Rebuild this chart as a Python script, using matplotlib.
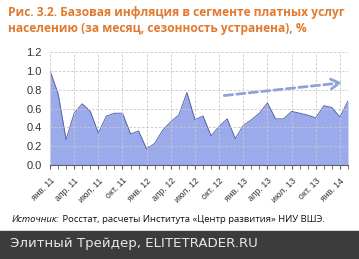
import numpy as np
import matplotlib
matplotlib.use('Agg')
import matplotlib.pyplot as plt
from matplotlib.ticker import MultipleLocator, FormatStrFormatter

# monthly values, Jan 2011 .. Feb 2014
values = [1.00, 0.76, 0.27, 0.55, 0.65, 0.57, 0.34, 0.52, 0.55, 0.55,
          0.33, 0.36, 0.17, 0.23, 0.37, 0.46, 0.53, 0.77, 0.48, 0.52,
          0.31, 0.41, 0.49, 0.28, 0.42, 0.48, 0.55, 0.66, 0.49, 0.49,
          0.57, 0.55, 0.53, 0.50, 0.63, 0.61, 0.51, 0.68]
tick_labels = ['янв. 11', 'апр. 11', 'июл. 11', 'окт. 11',
               'янв. 12', 'апр. 12', 'июл. 12', 'окт. 12',
               'янв. 13', 'апр. 13', 'июл. 13', 'окт. 13', 'янв. 14']
# trend arrow (month index, value)
trend_x = [21.3, 36.6]
trend_y = [0.735, 0.877]

title = ('Рис. 3.2. Базовая инфляция в сегменте платных услуг\n'
         'населению (за месяц, сезонность устранена), %')

months = np.arange(len(values))

fig = plt.figure(figsize=(3.59, 2.59), dpi=100)
fig.patch.set_facecolor('white')
ax = fig.add_axes([0.1393, 0.363, 0.83, 0.436])

ax.fill_between(months, values, 0, color='#9aaaea', lw=0)
ax.plot(months, values, color='#5564a8', lw=0.7)

ax.annotate('', xy=(trend_x[1], trend_y[1]), xytext=(trend_x[0], trend_y[0]),
            arrowprops=dict(arrowstyle='->,head_length=0.6,head_width=0.35',
                            color='#8fa3d6', lw=2.0, ls=(0, (3, 1.5))))

ax.set_xlim(0, len(values) - 1)
ax.set_ylim(0, 1.2)
ax.yaxis.set_major_locator(MultipleLocator(0.2))
ax.yaxis.set_major_formatter(FormatStrFormatter('%.1f'))
ax.set_xticks(np.arange(0, 37, 3))
ax.set_xticklabels(tick_labels, rotation=45, ha='right', va='top',
                   rotation_mode='anchor')
ax.set_xticks(months, minor=True)

ax.grid(True, which='major', color='#c8c8c8', ls=(0, (3, 2)), lw=0.6)
ax.set_axisbelow(False)
for s in ['top', 'right', 'left']:
    ax.spines[s].set_visible(False)
ax.spines['bottom'].set_color('#606060')
ax.spines['bottom'].set_linewidth(0.8)

ax.tick_params(axis='y', length=0, labelsize=8, labelcolor='#333333', pad=6)
ax.tick_params(axis='x', which='both', length=3, color='#606060',
               labelsize=6.3, labelcolor='#333333', pad=5)
for lab in ax.get_xticklabels() + ax.get_yticklabels():
    lab.set_family('Liberation Sans')

fig.text(0.022, 0.975, title, ha='left', va='top', fontsize=8.65,
         fontweight='bold', color='#e07a30', family='Open Sans',
         linespacing=1.3)

src = fig.text(0.033, 0.153, 'Источник:', ha='left', va='center', fontsize=6.8,
               style='italic', color='#111111', family='Open Sans')
ax.annotate(' Росстат, расчеты Института «Центр развития» НИУ ВШЭ.',
            xy=(1, 0.5), xycoords=src, ha='left', va='center', fontsize=6.8,
            color='#111111', family='Open Sans', annotation_clip=False)

fig.patches.append(plt.Rectangle((0, 0), 1, 28 / 259, transform=fig.transFigure,
                                 color='#3c3c3c', zorder=0))
fig.text(0.028, 0.058, 'Элитный Трейдер, ELITETRADER.RU', ha='left',
         va='center', fontsize=9.6, color='#e8e8e8', family='DejaVu Sans')

fig.savefig('out.png', dpi=100)
